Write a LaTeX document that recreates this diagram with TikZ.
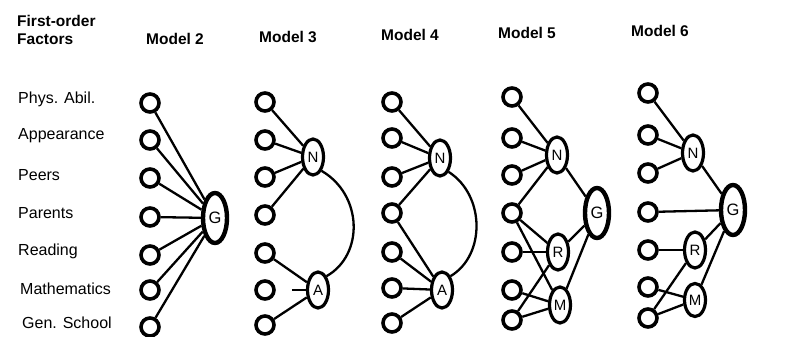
\documentclass[tikz,border=0pt]{standalone}
\usepackage{fontspec}
\setmainfont{Liberation Sans}
\usetikzlibrary{shapes.geometric}
\begin{document}
\begin{tikzpicture}[x=1pt,y=-1pt,
  fc/.style={circle,draw,line width=3.6pt,minimum size=18pt,inner sep=0pt},
  lat/.style={ellipse,draw,line width=3.2pt,minimum width=21pt,minimum height=36pt,inner sep=0pt,font=\fontsize{15}{17}\selectfont},
  glat/.style={lat,line width=4.4pt,minimum width=24pt,minimum height=50pt,font=\fontsize{16.5}{18}\selectfont},
  edge/.style={line width=2.3pt},
  rowlab/.style={anchor=west,inner sep=0pt,font=\fontsize{16}{18}\selectfont},
  head/.style={inner sep=0pt,font=\fontsize{15.5}{18}\selectfont\bfseries}]
\useasboundingbox (0,0) rectangle (785,337);
% headers
\node[head,anchor=west] (h1) at (17,21) {First-order};
\node[head,anchor=west] (h2) at (17,39) {Factors};
\node[head] (m2) at (175,39) {Model 2};
\node[head] (m3) at (288,37) {Model 3};
\node[head] (m4) at (410,35) {Model 4};
\node[head] (m5) at (527,33) {Model 5};
\node[head] (m6) at (660,31) {Model 6};
% row labels
\node[rowlab] (r1) at (18,99) {Phys. Abil.};
\node[rowlab] (r2) at (18,136) {Appearance};
\node[rowlab] (r3) at (18,175) {Peers};
\node[rowlab] (r4) at (18,213) {Parents};
\node[rowlab] (r5) at (18,251) {Reading};
\node[rowlab] (r6) at (20,289) {Mathematics};
\node[rowlab] (r7) at (22,323) {Gen. School};
% first-order factor circles
\foreach \y [count=\i] in {103,140,178,217,255,290,327} \node[fc] (a\i) at (150,\y) {};
\foreach \y [count=\i] in {102,140,177,215,253,290,325} \node[fc] (b\i) at (265,\y) {};
\foreach \y [count=\i] in {102,138,177,213,252,288,323} \node[fc] (c\i) at (392,\y) {};
\foreach \y [count=\i] in {97,138,175,213,252,290,320} \node[fc] (d\i) at (512,\y) {};
\foreach \y [count=\i] in {93,135,173,212,250,287,318} \node[fc] (e\i) at (648,\y) {};
% Model 2
\node[glat] (G2) at (215,218) {G};
\foreach \i in {1,...,7} \draw[edge] (a\i) -- (G2);
% Model 3
\node[lat] (N3) at (313,157) {N};
\node[lat] (A3) at (318,290) {A};
\foreach \i in {1,...,4} \draw[edge] (b\i) -- (N3);
\draw[edge] (b5) -- (A3);
\draw[edge] ([xshift=16pt]b6.east) -- (A3);
\draw[edge] (b7) -- (A3);
\draw[edge] (N3.south east) .. controls (363,195) and (364,255) .. (A3.north east);
% Model 4
\node[lat] (N4) at (440,158) {N};
\node[lat] (A4) at (442,290) {A};
\foreach \i in {1,...,4} \draw[edge] (c\i) -- (N4);
\foreach \i in {4,...,7} \draw[edge] (c\i) -- (A4);
\draw[edge] (N4.south east) .. controls (485,195) and (486,255) .. (A4.north east);
% Model 5
\node[lat] (N5) at (557,155) {N};
\node[glat] (G5) at (597,213) {G};
\node[lat] (R5) at (558,252) {R};
\node[lat] (M5) at (560,305) {M};
\foreach \i in {1,...,4} \draw[edge] (d\i) -- (N5);
\draw[edge] (N5) -- (G5);
\draw[edge] (R5) -- (G5);
\draw[edge] (M5) -- (G5);
\draw[edge] (d4) -- (R5);
\draw[edge] (d5) -- (R5);
\draw[edge] (d7) -- (R5);
\draw[edge] (d4) -- (M5);
\draw[edge] (d6) -- (M5);
\draw[edge] (d7) -- (M5);
% Model 6
\node[lat] (N6) at (693,153) {N};
\node[glat] (G6) at (733,210) {G};
\node[lat] (R6) at (695,250) {R};
\node[lat,minimum height=33pt] (M6) at (695,300) {M};
\foreach \i in {1,...,3} \draw[edge] (e\i) -- (N6);
\draw[edge] (N6) -- (G6);
\draw[edge] (e4) -- (G6);
\draw[edge] (e5) -- (R6);
\draw[edge] (R6) -- (G6);
\draw[edge] (e7) -- (R6);
\draw[edge] (e6) -- (M6);
\draw[edge] (e7) -- (M6);
\draw[edge] (M6) -- (G6);
\end{tikzpicture}
\end{document}
